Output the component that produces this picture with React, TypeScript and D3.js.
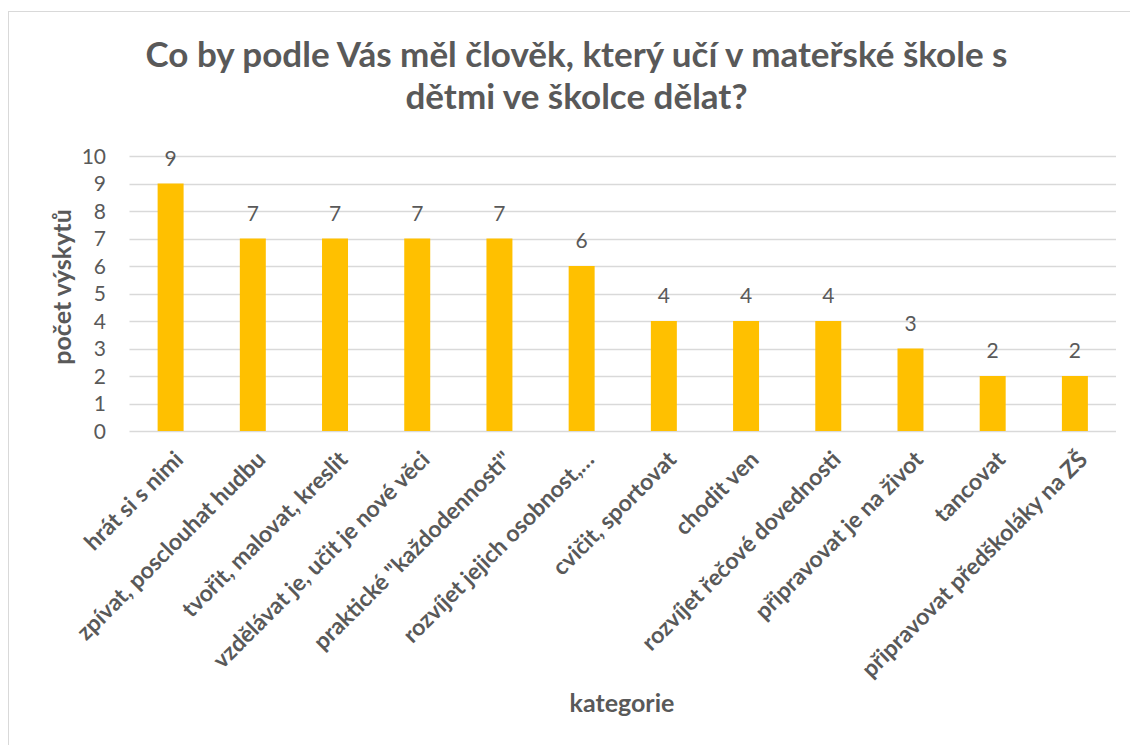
import React from "react";
import * as d3 from "d3";

const categories: string[] = [
  "hrát si s nimi",
  "zpívat, posclouhat hudbu",
  "tvořit, malovat, kreslit",
  "vzdělávat je, učit je nové věci",
  "praktické \"každodennosti\"",
  "rozvíjet jejich osobnost,…",
  "cvičit, sportovat",
  "chodit ven",
  "rozvíjet řečové dovednosti",
  "připravovat je na život",
  "tancovat",
  "připravovat předškoláky na ZŠ",
];
const values: number[] = [9, 7, 7, 7, 7, 6, 4, 4, 4, 3, 2, 2];
const yTicks: number[] = [0, 1, 2, 3, 4, 5, 6, 7, 8, 9, 10];
const titleLines: string[] = [
  "Co by podle Vás měl člověk, který učí v mateřské škole s",
  "dětmi ve školce dělat?",
];
const yTitle = "počet výskytů";
const xTitle = "kategorie";

const W = 1130;
const H = 745;
const plot = { left: 129.5, right: 1116, top: 156, bottom: 431 };
const TEXT = "#595959";
const FONT = "Lato, 'Open Sans', sans-serif";

export default function App() {
  const x = d3
    .scaleBand<string>()
    .domain(categories)
    .range([plot.left, plot.right])
    .paddingInner(0.684)
    .paddingOuter(0.342);
  const y = d3.scaleLinear().domain([0, 10]).range([plot.bottom, plot.top]);

  return (
    <svg
      width={W}
      height={H}
      style={{ position: "absolute", left: 0, top: 0, fontFamily: FONT }}
    >
      <rect x={0} y={0} width={W} height={H} fill="#ffffff" />
      <rect
        x={8.5}
        y={11.5}
        width={W + 20}
        height={H + 20}
        fill="#ffffff"
        stroke="#D9D9D9"
        strokeWidth={1}
      />
      {titleLines.map((t, i) => (
        <text
          key={i}
          x={576.5}
          y={67 + i * 42}
          textAnchor="middle"
          fontSize={35}
          fontWeight={700}
          fill={TEXT}
        >
          {t}
        </text>
      ))}
      {yTicks.map((t) => (
        <g key={t}>
          <line
            x1={plot.left}
            x2={plot.right}
            y1={Math.round(y(t)) + 0.5}
            y2={Math.round(y(t)) + 0.5}
            stroke="#D9D9D9"
            strokeWidth={1.3}
          />
          <text
            x={106}
            y={y(t)}
            dy="0.36em"
            textAnchor="end"
            fontSize={21}
            fill={TEXT}
          >
            {t}
          </text>
        </g>
      ))}
      {categories.map((c, i) => (
        <g key={c}>
          <rect
            x={x(c)}
            y={y(values[i])}
            width={x.bandwidth()}
            height={y(0) - y(values[i])}
            fill="#FFC000"
          />
          <text
            x={(x(c) as number) + x.bandwidth() / 2}
            y={y(values[i]) - 18}
            textAnchor="middle"
            fontSize={21}
            fill={TEXT}
          >
            {values[i]}
          </text>
          <text
            transform={`translate(${(x(c) as number) + x.bandwidth() / 2 + 14},${461}) rotate(-45)`}
            textAnchor="end"
            fontSize={23}
            fontWeight={700}
            fill={TEXT}
          >
            {c}
          </text>
        </g>
      ))}
      <text
        transform={`translate(${71},${287}) rotate(-90)`}
        textAnchor="middle"
        fontSize={25}
        fontWeight={700}
        fill={TEXT}
      >
        {yTitle}
      </text>
      <text
        x={622}
        y={712}
        textAnchor="middle"
        fontSize={25}
        fontWeight={700}
        fill={TEXT}
      >
        {xTitle}
      </text>
    </svg>
  );
}
